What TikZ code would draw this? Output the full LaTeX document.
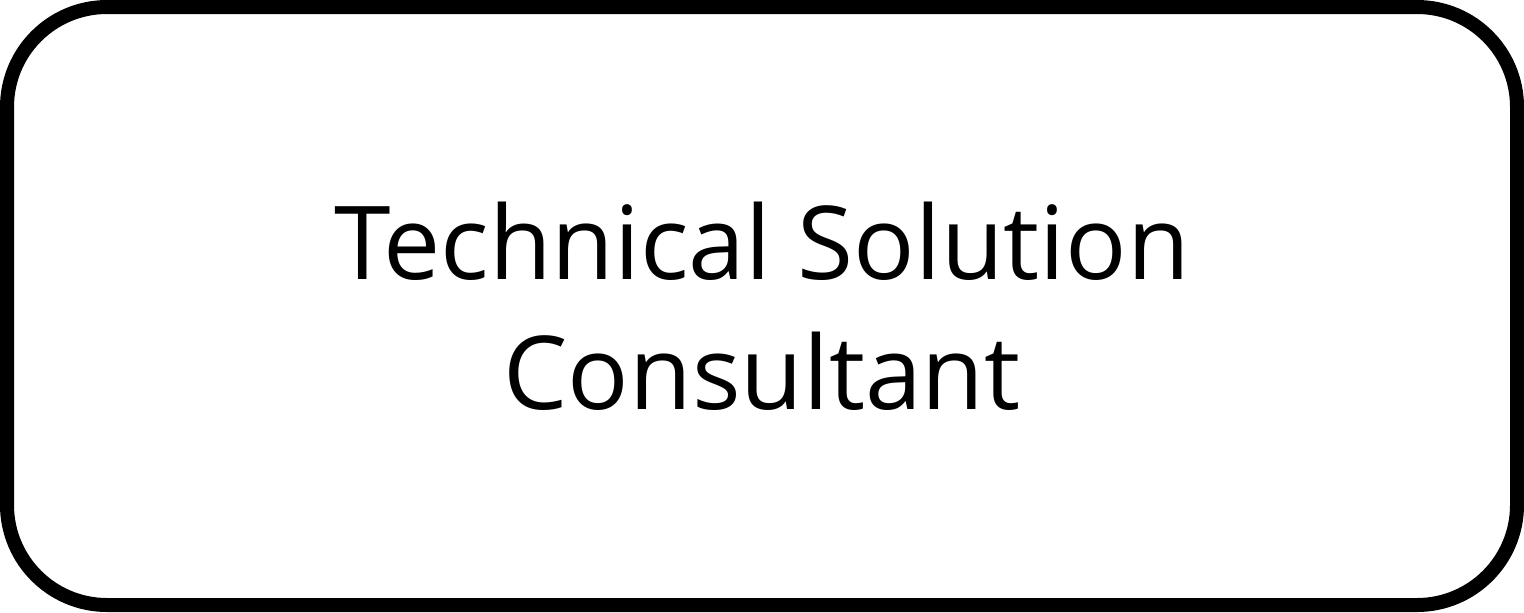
\documentclass[tikz,border=0pt]{standalone}
\usepackage{fontspec}
\setmainfont{Open Sans}
\usepackage{tikz}

\begin{document}
\begin{tikzpicture}[x=0.5pt,y=-0.5pt]
    % Fix the size of the page: 1524 by 612
    \useasboundingbox (0,0) rectangle (1524,612);
    % Rounded box with a heavy black border
    \draw[line width=7pt,rounded corners=50pt] (7,7) rectangle (1517,605);
    % Role title in the middle of the box
    \node[align=center,font=\fontsize{51}{65}\selectfont] (role) at (762,306) {Technical Solution\\Consultant};
  \end{tikzpicture}
\end{document}
